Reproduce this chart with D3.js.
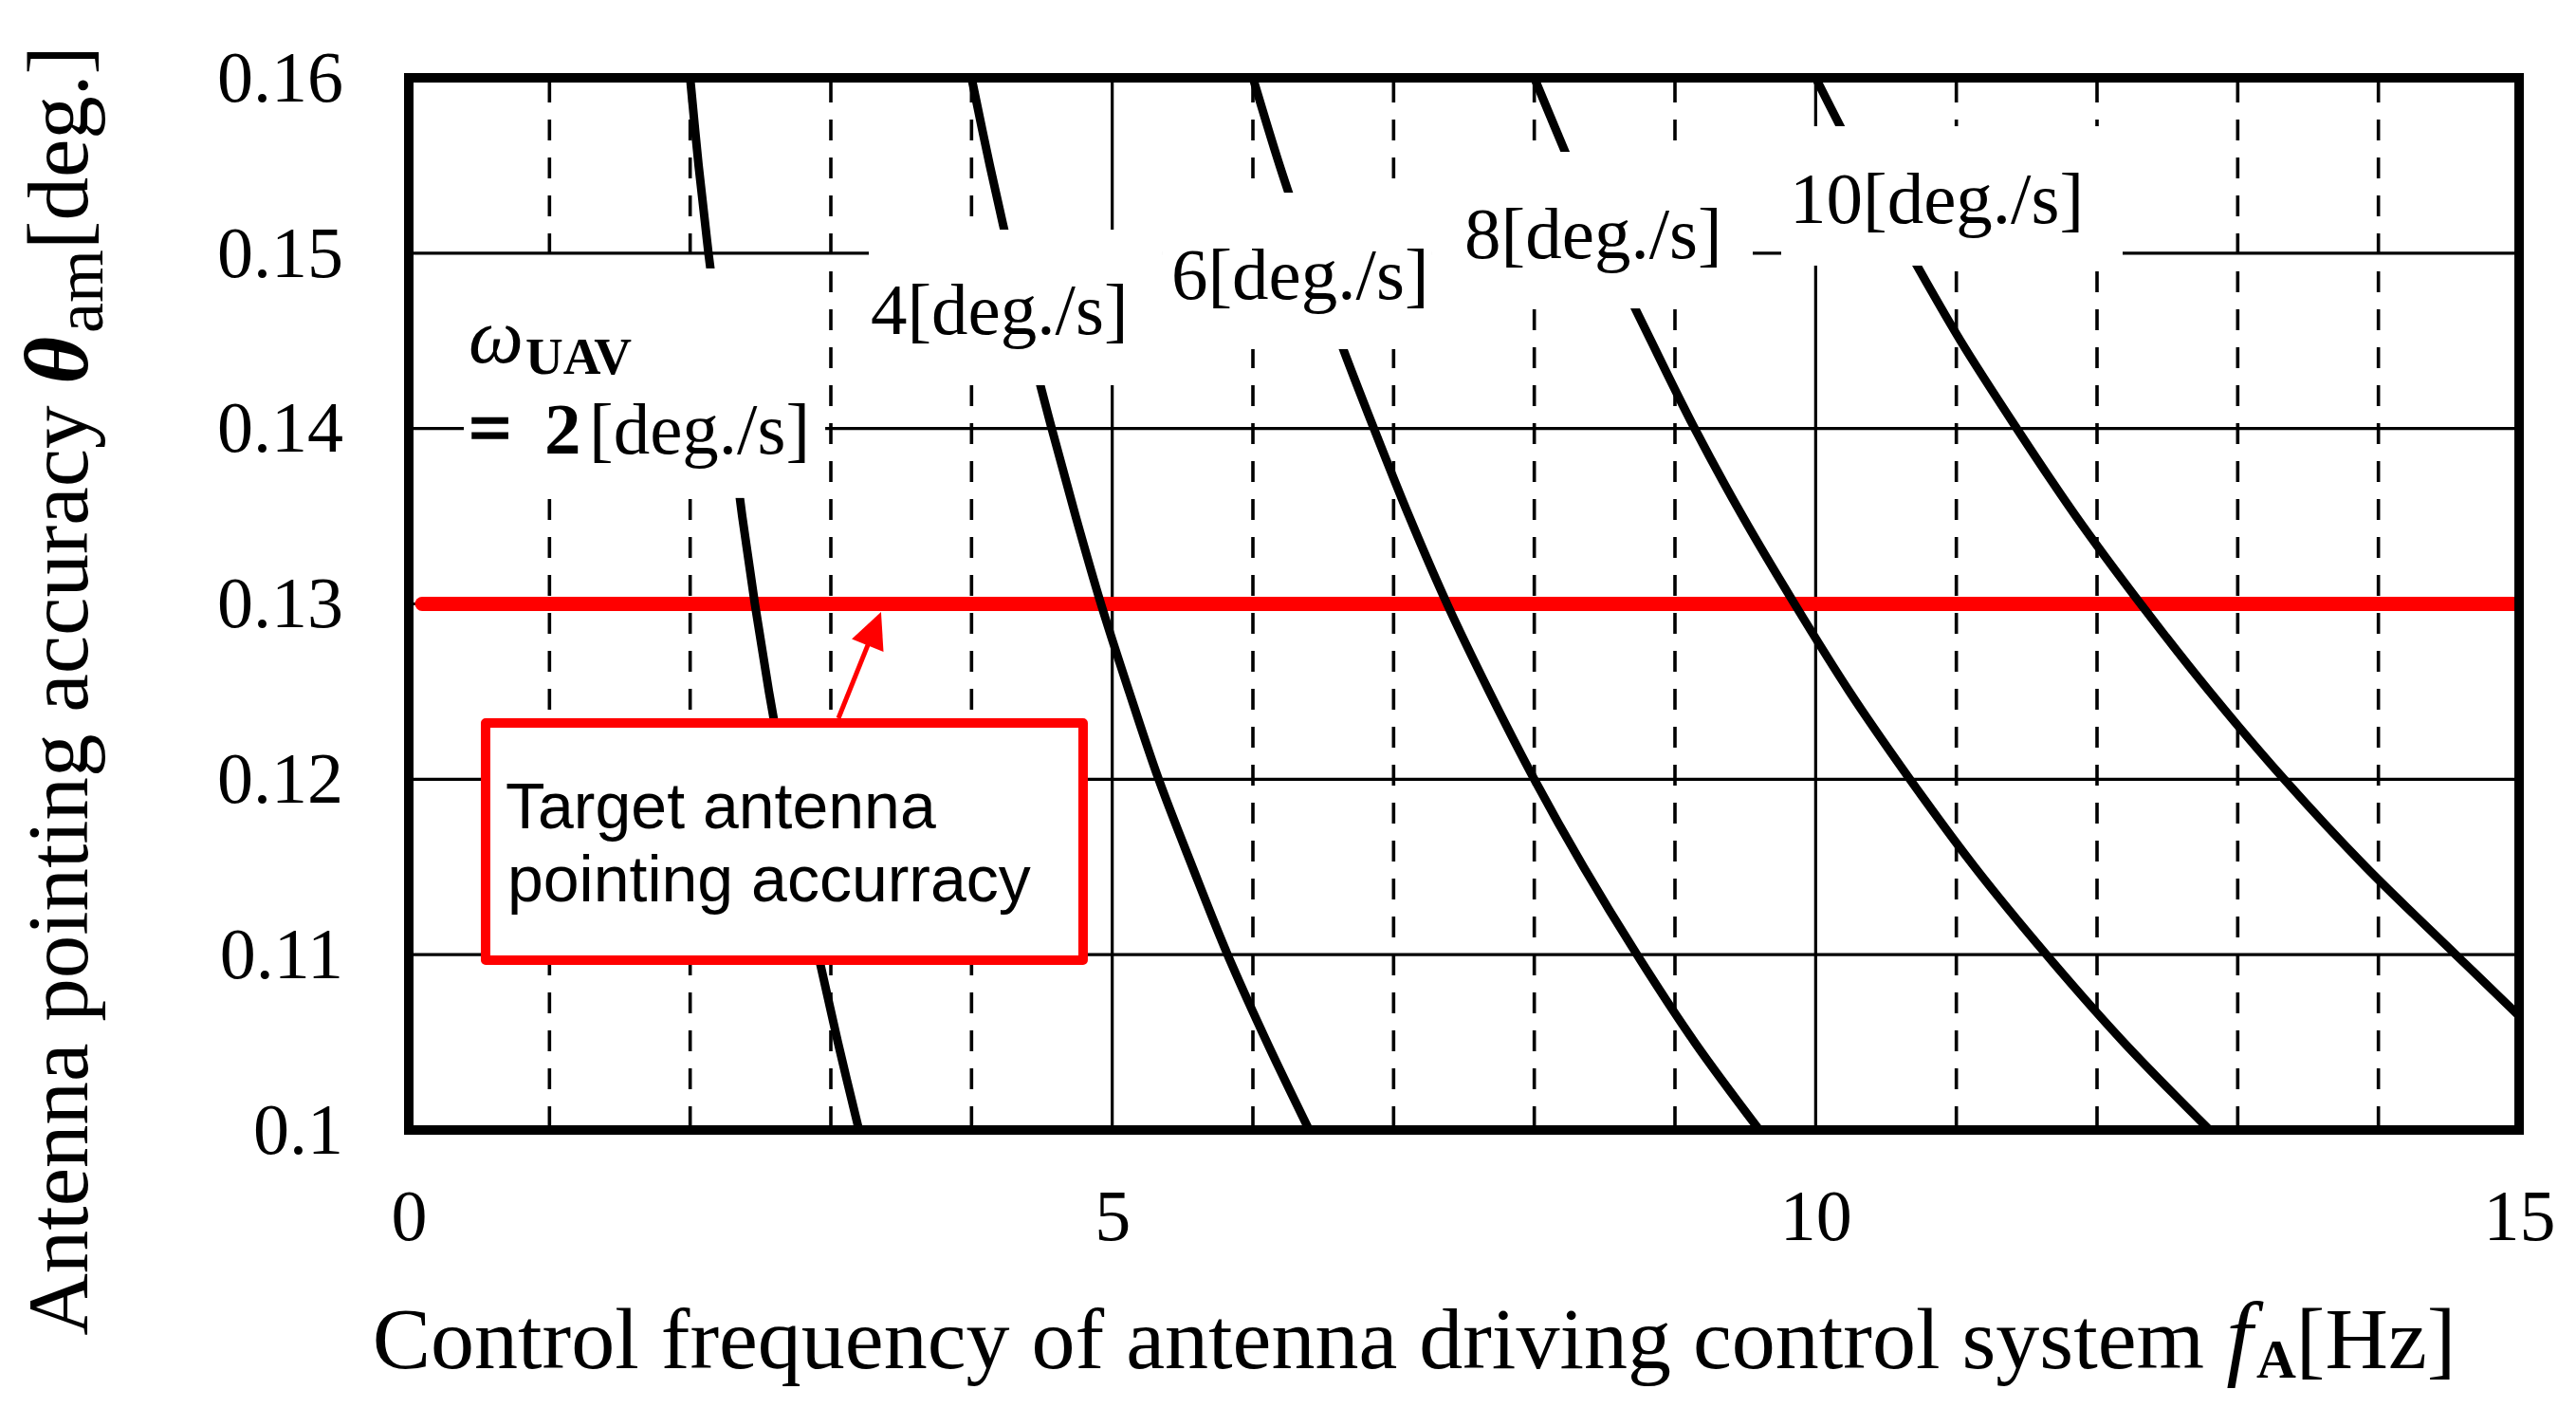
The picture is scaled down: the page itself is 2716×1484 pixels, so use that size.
<!DOCTYPE html>
<html>
<head>
<meta charset="utf-8">
<script src="https://cdn.jsdelivr.net/npm/d3@7"></script>
<style>
  html, body { margin: 0; padding: 0; background: #fff; }
  svg { display: block; }
</style>
</head>
<body>
<svg id="chart"></svg>
<script>
// ---- data ----
var xTicks = [0, 5, 10, 15];
var xTickLabels = ["0", "5", "10", "15"];
var yTicks = [0.10, 0.11, 0.12, 0.13, 0.14, 0.15, 0.16];
var yTickLabels = ["0.1", "0.11", "0.12", "0.13", "0.14", "0.15", "0.16"];
var solidX = [5, 10];
var dashedX = [1, 2, 3, 4, 6, 7, 8, 9, 11, 12, 13, 14];
var gridY = [0.11, 0.12, 0.13, 0.14, 0.15];

var omegas = [2, 4, 6, 8, 10];
// theta values at which the curves were read
var thetaRead = [0.160, 0.155, 0.150, 0.145, 0.140, 0.135, 0.130, 0.125, 0.120, 0.115, 0.110, 0.105, 0.100];
var thetaRead10 = [0.160, 0.155, 0.150, 0.145, 0.140, 0.135, 0.130, 0.125, 0.120, 0.115, 0.110, 0.1065];
// control frequency f_A [Hz] of each curve at those theta values
var fW2  = [2.00, 2.06, 2.13, 2.21, 2.29, 2.37, 2.46, 2.56, 2.67, 2.78, 2.91, 3.05, 3.20];
var fW4  = [4.00, 4.13, 4.27, 4.41, 4.57, 4.74, 4.92, 5.12, 5.33, 5.57, 5.82, 6.10, 6.40];
var fW6  = [6.00, 6.19, 6.40, 6.62, 6.86, 7.11, 7.38, 7.68, 8.00, 8.35, 8.73, 9.14, 9.60];
var fW8  = [8.00, 8.26, 8.53, 8.83, 9.14, 9.48, 9.85, 10.24, 10.67, 11.13, 11.64, 12.19, 12.80];
var fW10 = [10.00, 10.32, 10.67, 11.03, 11.43, 11.85, 12.31, 12.80, 13.33, 13.91, 14.55, 15.00];

var targetTheta = 0.13;

// ---- layout ----
var W = 2716, H = 1484;
var plot = { left: 431, right: 2656, top: 82, bottom: 1191 };
var serif = "'Liberation Serif', 'Times New Roman', Times, serif";
var sans = "'Liberation Sans', Arial, Helvetica, sans-serif";

var svg = d3.select("#chart").attr("width", W).attr("height", H);
svg.append("rect").attr("width", W).attr("height", H).attr("fill", "#fff");

var x = d3.scaleLinear().domain([0, 15]).range([plot.left, plot.right]);
var y = d3.scaleLinear().domain([0.10, 0.16]).range([plot.bottom, plot.top]);

svg.append("clipPath").attr("id", "plotclip")
  .append("rect")
  .attr("x", plot.left).attr("y", plot.top)
  .attr("width", plot.right - plot.left).attr("height", plot.bottom - plot.top);

// grid
var grid = svg.append("g");
grid.selectAll(".gy").data(gridY).enter().append("line")
  .attr("x1", plot.left).attr("x2", plot.right)
  .attr("y1", function(d){ return y(d); }).attr("y2", function(d){ return y(d); })
  .attr("stroke", "#000").attr("stroke-width", 3.2);
grid.selectAll(".gxs").data(solidX).enter().append("line")
  .attr("x1", function(d){ return x(d); }).attr("x2", function(d){ return x(d); })
  .attr("y1", plot.top).attr("y2", plot.bottom)
  .attr("stroke", "#000").attr("stroke-width", 3.2);
grid.selectAll(".gxd").data(dashedX).enter().append("line")
  .attr("x1", function(d){ return x(d); }).attr("x2", function(d){ return x(d); })
  .attr("y1", plot.top + 4).attr("y2", plot.bottom)
  .attr("stroke", "#000").attr("stroke-width", 3.6)
  .attr("stroke-dasharray", "22,18");

// target line
svg.append("line")
  .attr("x1", x(0) + 14).attr("x2", x(15))
  .attr("y1", y(targetTheta)).attr("y2", y(targetTheta))
  .attr("stroke", "#ff0000").attr("stroke-width", 15);
svg.append("circle")
  .attr("cx", x(0) + 14).attr("cy", y(targetTheta)).attr("r", 7.5)
  .attr("fill", "#ff0000");

// curves
var series = [
  { w: omegas[0], f: fW2,  t: thetaRead },
  { w: omegas[1], f: fW4,  t: thetaRead },
  { w: omegas[2], f: fW6,  t: thetaRead },
  { w: omegas[3], f: fW8,  t: thetaRead },
  { w: omegas[4], f: fW10, t: thetaRead10 }
];
var line = d3.line()
  .x(function(d){ return x(d[0]); })
  .y(function(d){ return y(d[1]); })
  .curve(d3.curveCatmullRom);
svg.append("g").attr("clip-path", "url(#plotclip)")
  .selectAll("path").data(series).enter().append("path")
  .attr("d", function(s){ return line(s.f.map(function(v, i){ return [v, s.t[i]]; })); })
  .attr("fill", "none").attr("stroke", "#000").attr("stroke-width", 9);

// white label boxes [f0, f1, thetaTop, thetaBottom]
var labelBoxes = [
  [0.391, 2.960, 0.14913, 0.13604],
  [3.270, 5.353, 0.15134, 0.14247],
  [5.353, 7.274, 0.15345, 0.14453],
  [7.274, 9.553, 0.15578, 0.14685],
  [9.755, 12.182, 0.15724, 0.14929]
];
svg.append("g").selectAll("rect").data(labelBoxes).enter().append("rect")
  .attr("x", function(d){ return x(d[0]); })
  .attr("y", function(d){ return y(d[2]); })
  .attr("width", function(d){ return x(d[1]) - x(d[0]); })
  .attr("height", function(d){ return y(d[3]) - y(d[2]); })
  .attr("fill", "#fff");

// curve labels [text, f, theta]
var curveLabels = [
  ["4[deg./s]", 3.283, 0.14539],
  ["6[deg./s]", 5.420, 0.14739],
  ["8[deg./s]", 7.504, 0.14972],
  ["10[deg./s]", 9.816, 0.15172]
];
svg.append("g").selectAll("text").data(curveLabels).enter().append("text")
  .attr("x", function(d){ return x(d[1]); })
  .attr("y", function(d){ return y(d[2]); })
  .attr("font-family", serif).attr("font-size", 77)
  .text(function(d){ return d[0]; });

// omega_UAV = 2 label
var wl = svg.append("text")
  .attr("x", x(0.425)).attr("y", y(0.14377))
  .attr("font-family", serif).attr("font-size", 82);
wl.append("tspan").attr("font-style", "italic").text("\u03c9");
wl.append("tspan").attr("font-weight", "bold").attr("font-size", 55).attr("dy", 12).attr("dx", 2).text("UAV");

svg.append("text")
  .attr("x", x(0.425)).attr("y", y(0.13857))
  .attr("font-family", serif).attr("font-size", 80).attr("font-weight", "bold")
  .attr("stroke", "#000").attr("stroke-width", 1.5)
  .text("=");
var wl2 = svg.append("text")
  .attr("y", y(0.13857))
  .attr("font-family", serif).attr("font-size", 77);
wl2.append("tspan").attr("x", x(0.964)).attr("font-weight", "bold").text("2");
wl2.append("tspan").attr("x", x(1.281)).text("[deg./s]");

// target callout
var cb = [0.546, 4.793, 0.12321, 0.10968];
svg.append("rect")
  .attr("x", x(cb[0])).attr("y", y(cb[2]))
  .attr("width", x(cb[1]) - x(cb[0])).attr("height", y(cb[3]) - y(cb[2]))
  .attr("fill", "#fff").attr("stroke", "#ff0000").attr("stroke-width", 10)
  .attr("stroke-linejoin", "round");
var ct = svg.append("g").attr("font-family", sans).attr("font-size", 68).attr("fill", "#000");
ct.append("text").attr("x", x(0.688)).attr("y", y(0.11720)).text("Target antenna");
ct.append("text").attr("x", x(0.701)).attr("y", y(0.11304)).text("pointing accurracy");

// arrow from callout to target line
var a0 = [x(3.054), y(0.12348)], a1 = [x(3.357), y(0.12954)];
var dx = a1[0] - a0[0], dy = a1[1] - a0[1], len = Math.sqrt(dx * dx + dy * dy);
var ux = dx / len, uy = dy / len, headL = 38, headW = 18;
var bx = a1[0] - ux * headL, by = a1[1] - uy * headL;
svg.append("line")
  .attr("x1", a0[0]).attr("y1", a0[1]).attr("x2", bx + ux * 4).attr("y2", by + uy * 4)
  .attr("stroke", "#ff0000").attr("stroke-width", 5);
svg.append("polygon")
  .attr("points", [[a1[0], a1[1]], [bx - uy * headW, by + ux * headW], [bx + uy * headW, by - ux * headW]]
    .map(function(p){ return p.join(","); }).join(" "))
  .attr("fill", "#ff0000");

// frame
svg.append("rect")
  .attr("x", plot.left).attr("y", plot.top)
  .attr("width", plot.right - plot.left).attr("height", plot.bottom - plot.top)
  .attr("fill", "none").attr("stroke", "#000").attr("stroke-width", 10);

// axes
var yAxis = d3.axisLeft(y).tickValues(yTicks).tickSize(0).tickPadding(69)
  .tickFormat(function(d, i){ return yTickLabels[i]; });
var gy = svg.append("g").attr("transform", "translate(" + plot.left + ",0)").call(yAxis);
var xAxis = d3.axisBottom(x).tickValues(xTicks).tickSize(0).tickPadding(62)
  .tickFormat(function(d, i){ return xTickLabels[i]; });
var gx = svg.append("g").attr("transform", "translate(0," + plot.bottom + ")").call(xAxis);
[gx, gy].forEach(function(g){
  g.select(".domain").remove();
  g.selectAll("text").attr("font-family", serif).attr("font-size", 76).attr("fill", "#000");
});

// axis titles
var xt = svg.append("text")
  .attr("x", 1491).attr("y", 1442)
  .attr("text-anchor", "middle")
  .attr("font-family", serif).attr("font-size", 92);
xt.append("tspan").text("Control frequency of antenna driving control system ");
xt.append("tspan").attr("font-style", "italic").attr("font-size", 100).text("f");
xt.append("tspan").attr("font-weight", "bold").attr("font-size", 58).attr("dy", 10).attr("dx", 4).text("A");
xt.append("tspan").attr("dy", -10).text("[Hz]");

var yt = svg.append("text")
  .attr("transform", "translate(92,728) rotate(-90)")
  .attr("text-anchor", "middle")
  .attr("font-family", serif).attr("font-size", 91);
yt.append("tspan").text("Antenna pointing accuracy ");
yt.append("tspan").attr("font-style", "italic").attr("font-weight", "bold").attr("font-size", 96).text("\u03b8");
yt.append("tspan").attr("font-size", 72).attr("dy", 16).attr("dx", 4).text("am");
yt.append("tspan").attr("dy", -16).text("[deg.]");
</script>
</body>
</html>
